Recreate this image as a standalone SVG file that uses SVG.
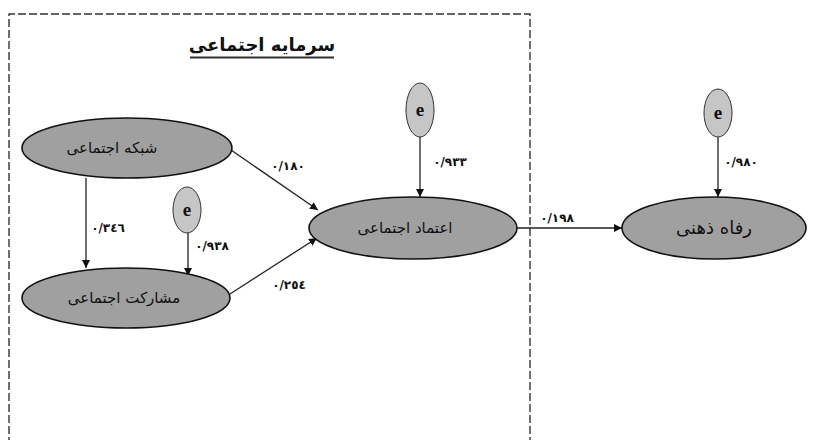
<svg xmlns="http://www.w3.org/2000/svg" width="822" height="440" viewBox="0 0 822 440">
<defs>
<marker id="ah" viewBox="0 0 10 10" refX="10" refY="5" markerWidth="8" markerHeight="8" markerUnits="userSpaceOnUse" orient="auto">
<path d="M0,0 L10,5 L0,10 z" fill="#111"/>
</marker>
<style>
.node{fill:#a0a0a0;stroke:#111;stroke-width:1.6}
.err{fill:#c6c6c6;stroke:#333;stroke-width:1}
.lbl{font-family:"DejaVu Sans",sans-serif;font-size:15px;fill:#111;text-anchor:middle}
.big{font-family:"DejaVu Sans",sans-serif;font-size:18px;fill:#111;text-anchor:middle}
.e{font-family:"Liberation Serif",serif;font-size:19px;font-weight:bold;fill:#111;text-anchor:middle}
.num{font-family:"DejaVu Sans",sans-serif;font-size:12px;font-weight:bold;fill:#111;text-anchor:middle}
.con{stroke:#222;stroke-width:1.3;fill:none;marker-end:url(#ah)}
</style>
</defs>
<rect width="822" height="440" fill="#fff"/>
<g id="frame">
<path d="M9,445 L9,14 L530,14 L530,445" fill="none" stroke="#333" stroke-width="1.4" stroke-dasharray="8,3"/>
<text x="262" y="51" class="big" style="font-size:18px;font-weight:bold">سرمایه اجتماعی</text>
<line x1="190" y1="57.5" x2="334" y2="57.5" stroke="#333" stroke-width="1.8"/>
</g>
<g id="connectors">
<line class="con" x1="86" y1="178" x2="86" y2="268"/>
<line class="con" x1="188" y1="233" x2="188" y2="276"/>
<line class="con" x1="231" y1="150" x2="318" y2="210"/>
<line class="con" x1="230" y1="294" x2="317" y2="238"/>
<line class="con" x1="420" y1="137" x2="420" y2="197"/>
<line class="con" x1="517" y1="228" x2="622" y2="228"/>
<line class="con" x1="718" y1="137" x2="718" y2="197"/>
<text x="288" y="170" class="num">٠/١٨٠</text>
<text x="108" y="232" class="num">٠/٣٤٦</text>
<text x="212" y="250" class="num">٠/٩٣٨</text>
<text x="289" y="289" class="num">٠/٢٥٤</text>
<text x="450" y="166" class="num">٠/٩٣٣</text>
<text x="557" y="222" class="num">٠/١٩٨</text>
<text x="741" y="166" class="num">٠/٩٨٠</text>
</g>
<g id="shabake">
<ellipse class="node" cx="127" cy="148" rx="105" ry="30"/>
<text x="112" y="153" class="lbl">شبکه اجتماعی</text>
</g>
<g id="mosharekat">
<ellipse class="node" cx="126" cy="298" rx="104" ry="30"/>
<text x="124" y="303" class="lbl">مشارکت اجتماعی</text>
</g>
<g id="etemad">
<ellipse class="node" cx="413" cy="228" rx="104" ry="31"/>
<text x="405" y="233" class="lbl">اعتماد اجتماعی</text>
</g>
<g id="refah">
<ellipse class="node" cx="714" cy="228" rx="92" ry="31"/>
<text x="714" y="234" class="big">رفاه ذهنی</text>
</g>
<g id="e1">
<ellipse class="err" cx="187" cy="210" rx="14" ry="23"/>
<text x="187" y="216" class="e">e</text>
</g>
<g id="e2">
<ellipse class="err" cx="420" cy="110" rx="14" ry="27"/>
<text x="420" y="116" class="e">e</text>
</g>
<g id="e3">
<ellipse class="err" cx="718" cy="113" rx="14" ry="24"/>
<text x="718" y="119" class="e">e</text>
</g>
</svg>
